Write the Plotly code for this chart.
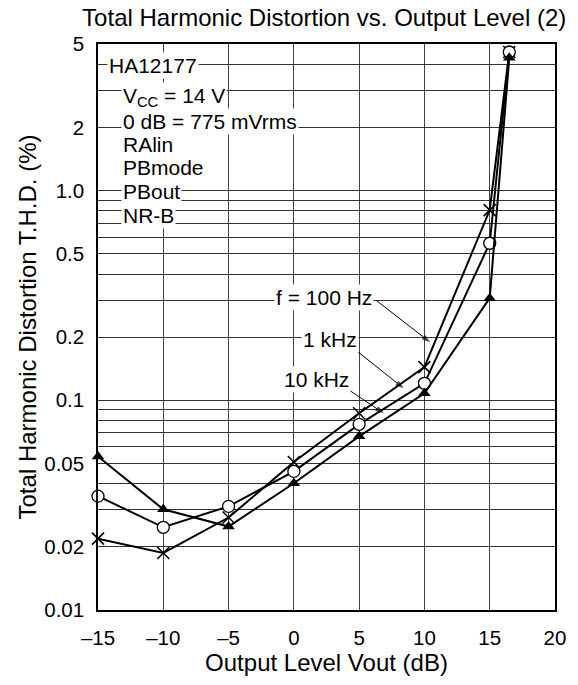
import math
import plotly.graph_objects as go

# Output level (dB) and T.H.D. (%) for each test frequency
level_db = [-15, -10, -5, 0, 5, 10, 15, 16.5]
thd_100hz = [0.0219, 0.0187, 0.0276, 0.0508, 0.0867, 0.144, 0.807, 4.58]
thd_1khz = [0.0349, 0.0248, 0.0312, 0.0458, 0.0768, 0.1205, 0.561, 4.58]
thd_10khz = [0.054, 0.0302, 0.025, 0.0402, 0.0673, 0.108, 0.307, 4.3]

# Axis ticks
x_ticks = [-15, -10, -5, 0, 5, 10, 15, 20]
x_tick_text = ["\u201315", "\u201310", "\u20135", "0", "5", "10", "15", "20"]
y_grid = [m * 10 ** e for e in (-2, -1, 0) for m in range(1, 10)] + [5]
y_grid = sorted(set(round(v, 4) for v in y_grid if v <= 5))
y_labels = {0.01: "0.01", 0.02: "0.02", 0.05: "0.05", 0.1: "0.1",
            0.2: "0.2", 0.5: "0.5", 1.0: "1.0", 2: "2", 5: "5"}
y_tick_text = [y_labels.get(v, "") for v in y_grid]

# Conditions block and curve labels
conditions = ["HA12177", "V<sub>CC</sub> = 14 V", "0 dB = 775 mVrms",
              "RAlin", "PBmode", "PBout", "NR-B"]
curve_labels = ["f = 100 Hz", "1 kHz", "10 kHz"]

FONT = "Liberation Sans, Arial, sans-serif"
TEXT_SIZE = 21
TICK_SIZE = 20.5
TITLE_SIZE = 24

fig = go.Figure()

series = [
    (thd_100hz, dict(symbol="x-thin-open", size=12, color="black",
                     line=dict(width=1.6, color="black"))),
    (thd_1khz, dict(symbol="circle", size=12, color="white",
                    line=dict(width=1.3, color="black"))),
    (thd_10khz, dict(symbol="triangle-up", size=11, color="black",
                     line=dict(width=0, color="black"))),
]
for vals, marker in series:
    fig.add_trace(go.Scatter(
        x=level_db, y=vals, mode="lines+markers",
        line=dict(color="black", width=2),
        marker=marker, showlegend=False, cliponaxis=False,
        hoverinfo="skip",
    ))

# leader lines from each curve label to its curve, arrowhead at the curve end
label_xy = [(2.27, 0.309), (2.80, 0.196), (1.77, 0.126)]
tip_xy = [(10.45, 0.189), (8.41, 0.114), (6.89, 0.0867)]
tail_xy = [(6.29, 0.300), (4.47, 0.179), (3.94, 0.115)]
for (tx, ty), (sx, sy) in zip(tip_xy, tail_xy):
    fig.add_trace(go.Scatter(
        x=[sx, tx], y=[sy, ty], mode="lines+markers",
        line=dict(color="black", width=1),
        marker=dict(symbol="arrow", angleref="previous", size=[0, 9],
                    color="black", line=dict(width=0)),
        showlegend=False, hoverinfo="skip",
    ))

ann = []
# conditions text with white background over the grid
cond_pos = [(0.0195, 0.9616)] + [(0.050, y) for y in
                                 (0.9063, 0.8638, 0.8231, 0.7825, 0.7401, 0.6976)]
for txt, (px, py) in zip(conditions, cond_pos):
    ann.append(dict(text=txt, xref="paper", yref="paper", x=px, y=py,
                    xanchor="left", yanchor="middle", showarrow=False,
                    bgcolor="white", borderpad=1,
                    font=dict(family=FONT, size=TEXT_SIZE, color="black")))

# curve labels (log axis -> log10 coordinates)
for txt, (lx, ly) in zip(curve_labels, label_xy):
    ann.append(dict(text=txt, x=lx, y=math.log10(ly), xref="x", yref="y",
                    showarrow=False, bgcolor="white", borderpad=1,
                    font=dict(family=FONT, size=TEXT_SIZE, color="black")))

fig.update_layout(
    width=578, height=685,
    margin=dict(l=98, r=18, t=44, b=75),
    paper_bgcolor="white", plot_bgcolor="white",
    font=dict(family=FONT, size=TICK_SIZE, color="black"),
    title=dict(text="Total Harmonic Distortion vs. Output Level (2)",
               x=0.495, xref="paper", y=0.975, yref="container",
               xanchor="center", yanchor="middle",
               font=dict(family=FONT, size=TITLE_SIZE, color="black")),
    annotations=ann,
    xaxis=dict(range=[-15, 20], tickvals=x_ticks, ticktext=x_tick_text,
               showgrid=True, gridcolor="#444", gridwidth=1,
               showline=True, linecolor="black", linewidth=1.5, mirror=True,
               ticks="", ticklabelstandoff=9, zeroline=False,
               tickfont=dict(family=FONT, size=TICK_SIZE, color="black"),
               title=dict(text="Output Level Vout (dB)", standoff=6,
                          font=dict(family=FONT, size=TITLE_SIZE, color="black"))),
    yaxis=dict(type="log", range=[-2, math.log10(5)], tickvals=y_grid,
               ticktext=y_tick_text, showgrid=True, gridcolor="#333",
               gridwidth=1, showline=True, linecolor="black", linewidth=1.5,
               mirror=True, ticks="", ticklabelstandoff=8, zeroline=False,
               tickfont=dict(family=FONT, size=TICK_SIZE, color="black"),
               title=dict(text="Total Harmonic Distortion T.H.D. (%)", standoff=1,
                          font=dict(family=FONT, size=TITLE_SIZE, color="black"))),
)

fig.write_html("out.html")
